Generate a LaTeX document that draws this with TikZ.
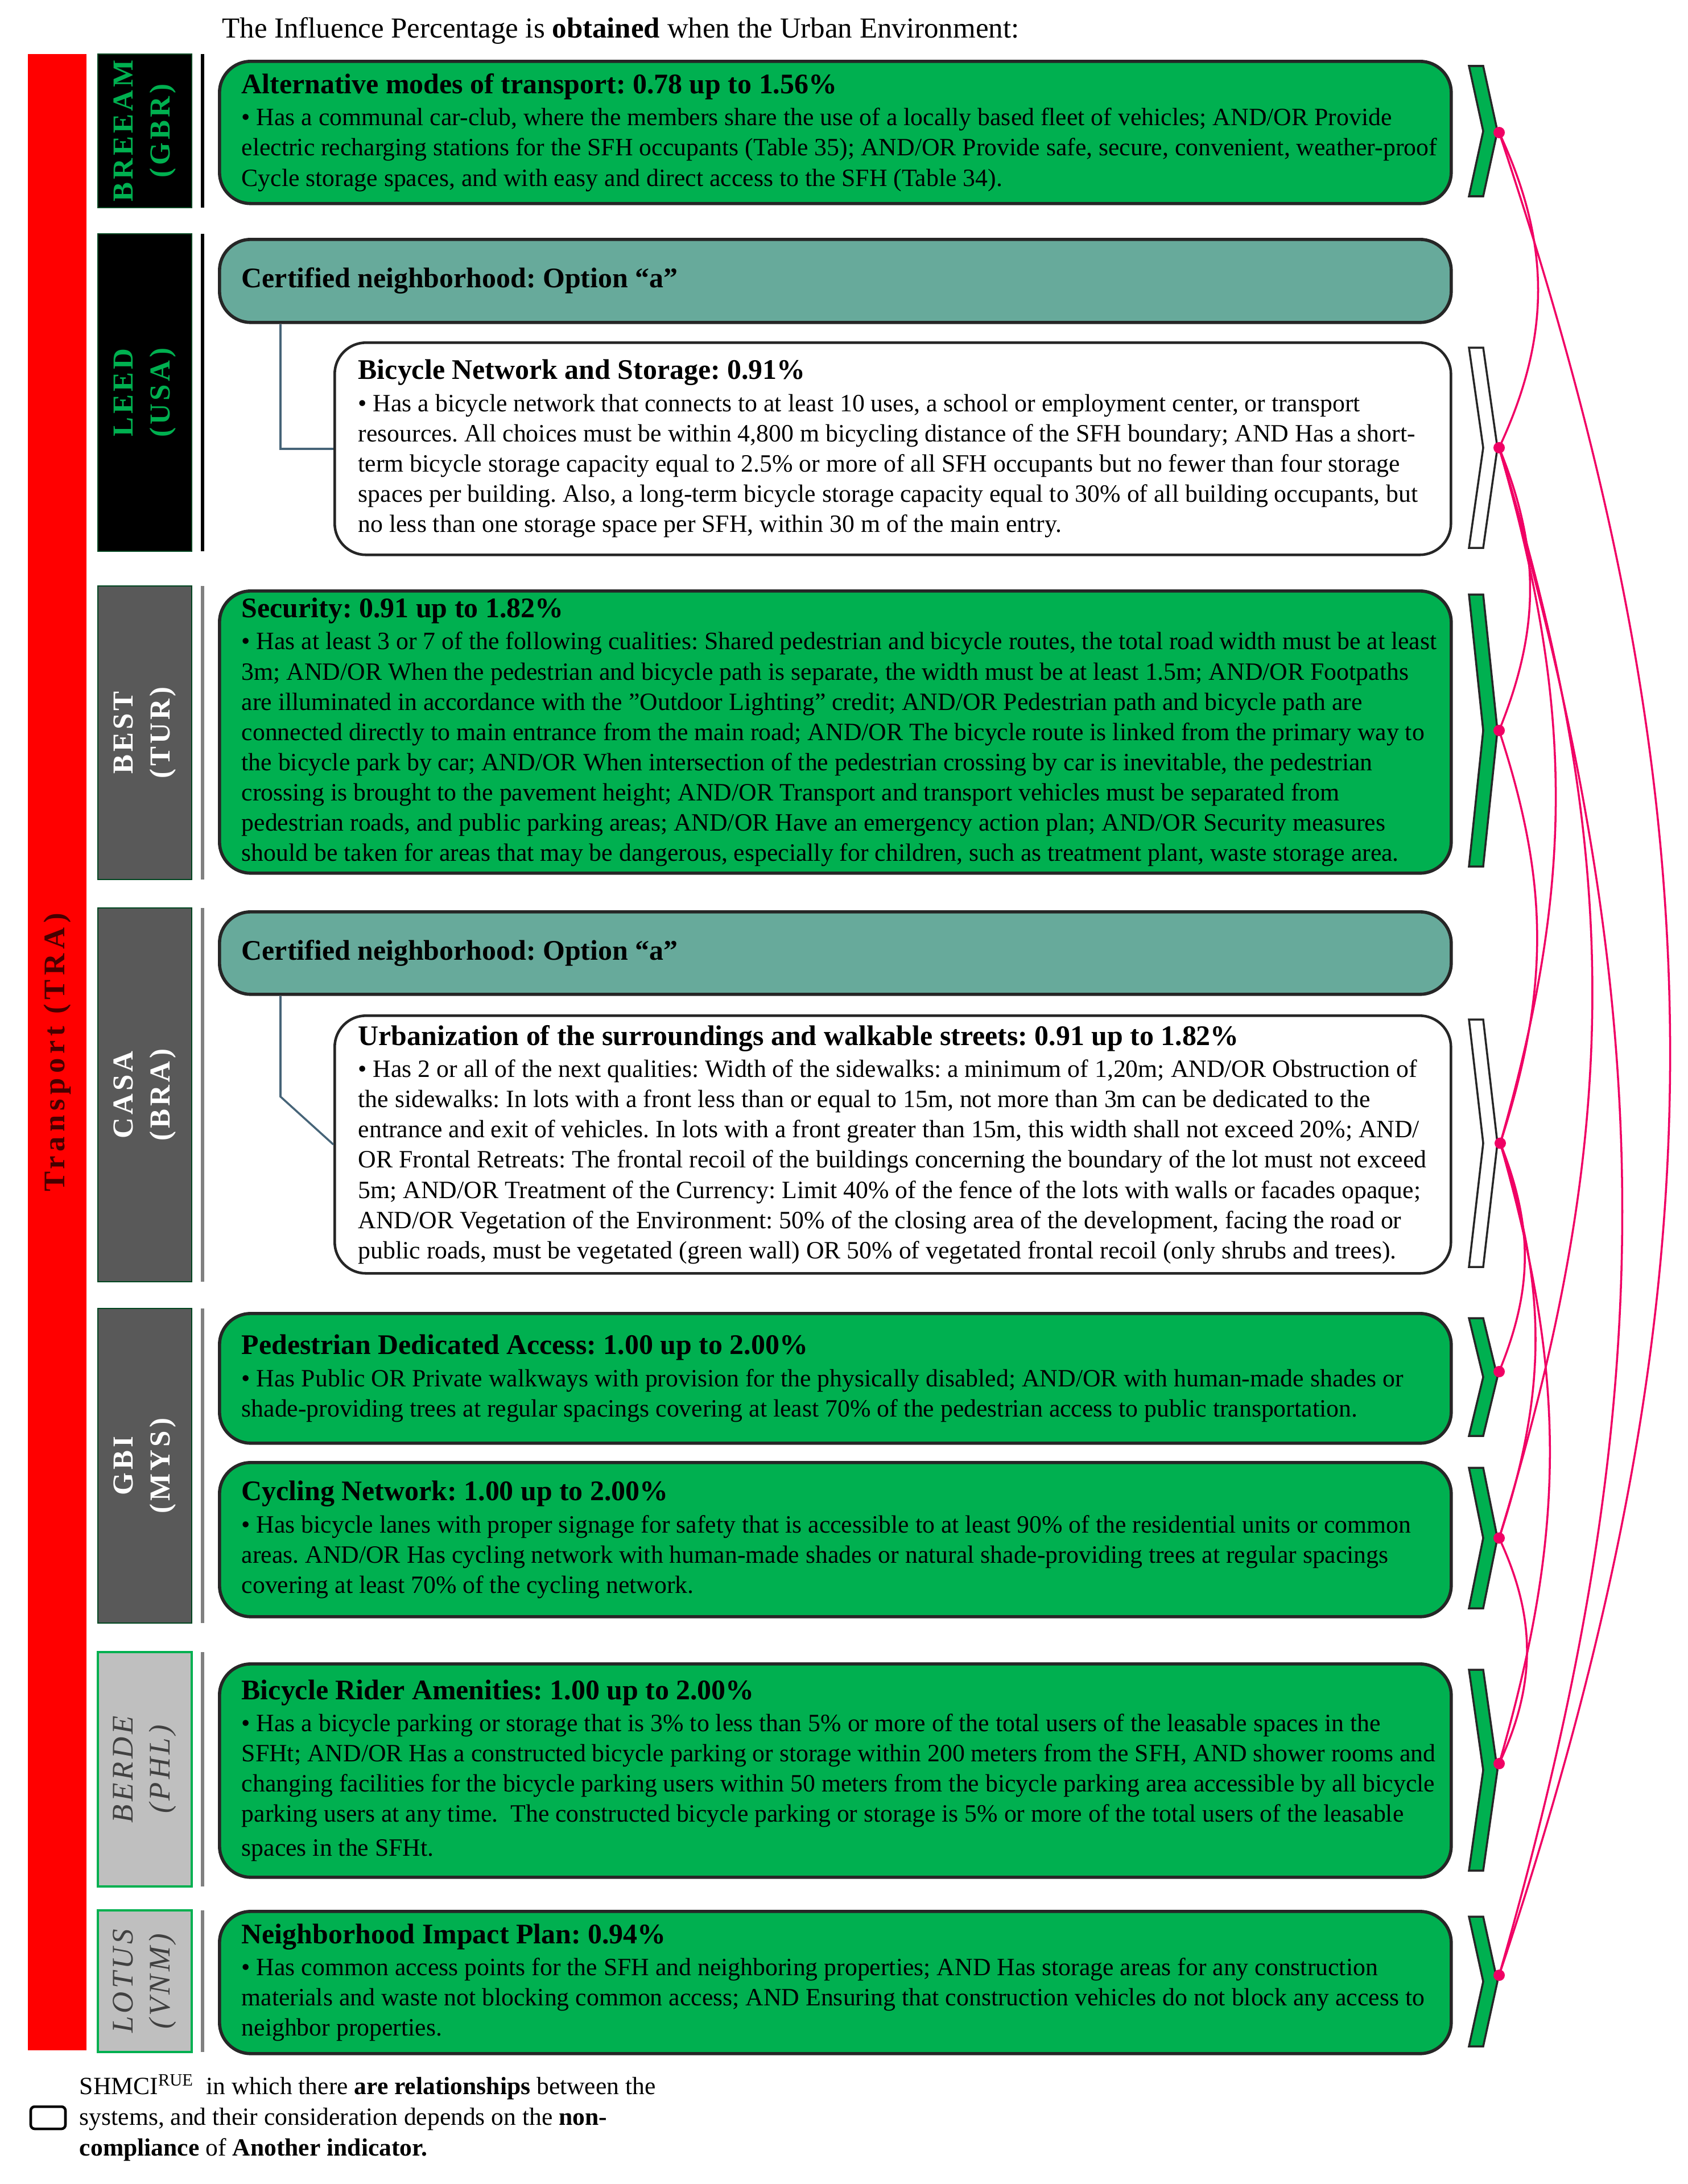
\documentclass[tikz,border=0pt]{standalone}
\usepackage{fontspec}
\setmainfont{Liberation Serif}
\newfontfamily\spacedfont[LetterSpace=10]{Liberation Serif}
\newfontfamily\widefont[LetterSpace=15]{Liberation Serif}
\usetikzlibrary{positioning, calc}

\definecolor{trared}{RGB}{255,0,0}
\definecolor{tradark}{RGB}{70,0,0}
\definecolor{okgreen}{RGB}{0,176,80}
\definecolor{nbteal}{RGB}{103,170,155}
\definecolor{labgray}{RGB}{89,89,89}
\definecolor{lightlab}{RGB}{191,191,191}
\definecolor{relpink}{RGB}{240,0,100}
\definecolor{linkslate}{RGB}{70,100,120}

\newcommand{\boxhead}[1]{{\fontsize{14.2}{15.1}\selectfont\bfseries #1}}

\begin{document}
\frenchspacing
\begin{tikzpicture}[
    box/.style={
        rectangle,
        rounded corners=0.55cm,
        draw=black!85,
        line width=1.6pt,
        anchor=north west,
        minimum width=21.65cm,
        inner sep=0pt
    },
    greenbox/.style={box, fill=okgreen},
    tealbox/.style={box, fill=nbteal},
    whitebox/.style={box, fill=white, line width=1.3pt, minimum width=19.62cm},
    txt/.style={
        align=left,
        inner sep=0pt,
        font=\fontsize{12.45}{15.1}\selectfont
    },
    lab/.style={
        rectangle,
        rotate=90,
        minimum height=1.65cm,
        inner sep=0pt,
        align=center,
        font=\spacedfont\fontsize{14.5}{18.5}\selectfont\bfseries
    },
    darklab/.style={lab, fill=black, draw=okgreen!40!black, line width=0.6pt, text=okgreen},
    graylab/.style={lab, fill=labgray, draw=okgreen!40!black, line width=0.6pt, text=white},
    lightlab/.style={lab, fill=lightlab, draw=okgreen, line width=1.2pt, text=black!75,
        font=\spacedfont\fontsize{15}{18.5}\selectfont\itshape},
    sepline/.style={line width=1.6pt},
    chev/.style={draw=black!85, line width=1pt},
    dot/.style={circle, fill=relpink, inner sep=0pt, minimum size=0.2cm},
    rel/.style={draw=relpink, line width=1pt},
    link/.style={draw=linkslate, line width=1pt}
]
    \useasboundingbox (0,0) rectangle (29.66,-38.39);

    % -- Title --
    \node[anchor=west, font=\fontsize{14.5}{17}\selectfont] (title) at (3.78,-0.54)
        {The Influence Percentage is \textbf{obtained} when the Urban Environment:};

    % -- Category bar --
    \node[rectangle, rotate=90, fill=trared, minimum width=35.09cm, minimum height=1.03cm,
        inner sep=0pt, text=tradark, font=\widefont\fontsize{15}{18}\selectfont\bfseries]
        (tra) at (1.005,-18.495) {Transport (TRA)};

    % -- Rating systems --
    \node[darklab, minimum width=2.70cm] (sBRE) at (2.545,-2.30) {BREEAM\\(GBR)};
    \node[darklab, minimum width=5.58cm] (sLEED) at (2.545,-6.90) {LEED\\(USA)};
    \node[graylab, minimum width=5.16cm] (sBEST) at (2.545,-12.88) {BEST\\(TUR)};
    \node[graylab, minimum width=6.57cm] (sCASA) at (2.545,-19.245) {CASA\\(BRA)};
    \node[graylab, minimum width=5.53cm] (sGBI) at (2.545,-25.765) {GBI\\(MYS)};
    \node[lightlab, minimum width=4.12cm] (sBERDE) at (2.545,-31.10) {BERDE\\(PHL)};
    \node[lightlab, minimum width=2.49cm] (sLOT) at (2.545,-34.825) {LOTUS\\(VNM)};

    % separators
    \draw[sepline] (3.56,-0.95) -- (3.56,-3.65);
    \draw[sepline] (3.56,-4.11) -- (3.56,-9.69);
    \draw[sepline, gray] (3.56,-10.30) -- (3.56,-15.46);
    \draw[sepline, gray] (3.56,-15.96) -- (3.56,-22.53);
    \draw[sepline, gray] (3.56,-23.00) -- (3.56,-28.53);
    \draw[sepline, gray] (3.56,-29.04) -- (3.56,-33.16);
    \draw[sepline, gray] (3.56,-33.58) -- (3.56,-36.07);

    % -- BREEAM --
    \node[greenbox, minimum height=2.50cm] (bre) at (3.83,-1.05) {};
    \node[txt, right=0.41cm of bre.west] (breT) {\boxhead{Alternative modes of transport: 0.78 up to 1.56\%}\\[1pt]
        • Has a communal car-club, where the members share the use of a locally based fleet of vehicles; AND/OR Provide\\
        electric recharging stations for the SFH occupants (Table 35); AND/OR Provide safe, secure, convenient, weather-proof\\
        Cycle storage spaces, and with easy and direct access to the SFH (Table 34).};

    % -- LEED --
    \node[tealbox, minimum height=1.46cm] (leedA) at (3.83,-4.18) {};
    \node[txt, right=0.41cm of leedA.west] (leedAT) {\boxhead{Certified neighborhood: Option “a”}};
    \node[whitebox, minimum height=3.73cm] (leedB) at (5.86,-6.00) {};
    \node[txt, right=0.43cm of leedB.west] (leedBT) {\boxhead{Bicycle Network and Storage: 0.91\%}\\[1pt]
        • Has a bicycle network that connects to at least 10 uses, a school or employment center, or transport\\
        resources. All choices must be within 4,800 m bicycling distance of the SFH boundary; AND Has a short-\\
        term bicycle storage capacity equal to 2.5\% or more of all SFH occupants but no fewer than four storage\\
        spaces per building. Also, a long-term bicycle storage capacity equal to 30\% of all building occupants, but\\
        no less than one storage space per SFH, within 30 m of the main entry.};
    \draw[link] ([xshift=1.10cm]leedA.south west) |- (leedB.west);

    % -- BEST --
    \node[greenbox, minimum height=4.96cm] (best) at (3.83,-10.36) {};
    \node[txt, right=0.41cm of best.west] (bestT) {\boxhead{Security: 0.91 up to 1.82\%}\\[1pt]
        • Has at least 3 or 7 of the following cualities: Shared pedestrian and bicycle routes, the total road width must be at least\\
        3m; AND/OR When the pedestrian and bicycle path is separate, the width must be at least 1.5m; AND/OR Footpaths\\
        are illuminated in accordance with the "Outdoor Lighting" credit; AND/OR Pedestrian path and bicycle path are\\
        connected directly to main entrance from the main road; AND/OR The bicycle route is linked from the primary way to\\
        the bicycle park by car; AND/OR When intersection of the pedestrian crossing by car is inevitable, the pedestrian\\
        crossing is brought to the pavement height; AND/OR Transport and transport vehicles must be separated from\\
        pedestrian roads, and public parking areas; AND/OR Have an emergency action plan; AND/OR Security measures\\
        should be taken for areas that may be dangerous, especially for children, such as treatment plant, waste storage area.};

    % -- CASA --
    \node[tealbox, minimum height=1.45cm] (casaA) at (3.83,-16.00) {};
    \node[txt, right=0.41cm of casaA.west] (casaAT) {\boxhead{Certified neighborhood: Option “a”}};
    \node[whitebox, minimum height=4.53cm] (casaB) at (5.86,-17.83) {};
    \node[txt, right=0.43cm of casaB.west] (casaBT) {\boxhead{Urbanization of the surroundings and walkable streets: 0.91 up to 1.82\%}\\[1pt]
        • Has 2 or all of the next qualities: Width of the sidewalks: a minimum of 1,20m; AND/OR Obstruction of\\
        the sidewalks: In lots with a front less than or equal to 15m, not more than 3m can be dedicated to the\\
        entrance and exit of vehicles. In lots with a front greater than 15m, this width shall not exceed 20\%; AND/\\
        OR Frontal Retreats: The frontal recoil of the buildings concerning the boundary of the lot must not exceed\\
        5m; AND/OR Treatment of the Currency: Limit 40\% of the fence of the lots with walls or facades opaque;\\
        AND/OR Vegetation of the Environment: 50\% of the closing area of the development, facing the road or\\
        public roads, must be vegetated (green wall) OR 50\% of vegetated frontal recoil (only shrubs and trees).};
    \draw[link] ([xshift=1.10cm]casaA.south west) -- ++(0,-1.77) -- (casaB.west);

    % -- GBI --
    \node[greenbox, minimum height=2.28cm] (gbiA) at (3.83,-23.06) {};
    \node[txt, right=0.41cm of gbiA.west] (gbiAT) {\boxhead{Pedestrian Dedicated Access: 1.00 up to 2.00\%}\\[1pt]
        • Has Public OR Private walkways with provision for the physically disabled; AND/OR with human-made shades or\\
        shade-providing trees at regular spacings covering at least 70\% of the pedestrian access to public transportation.};
    \node[greenbox, minimum height=2.71cm] (gbiB) at (3.83,-25.68) {};
    \node[txt, right=0.41cm of gbiB.west] (gbiBT) {\boxhead{Cycling Network: 1.00 up to 2.00\%}\\[1pt]
        • Has bicycle lanes with proper signage for safety that is accessible to at least 90\% of the residential units or common\\
        areas. AND/OR Has cycling network with human-made shades or natural shade-providing trees at regular spacings\\
        covering at least 70\% of the cycling network.};

    % -- BERDE --
    \node[greenbox, minimum height=3.75cm] (berde) at (3.83,-29.22) {};
    \node[txt, right=0.41cm of berde.west] (berdeT) {\boxhead{Bicycle Rider Amenities: 1.00 up to 2.00\%}\\[1pt]
        • Has a bicycle parking or storage that is 3\% to less than 5\% or more of the total users of the leasable spaces in the\\
        SFHt; AND/OR Has a constructed bicycle parking or storage within 200 meters from the SFH, AND shower rooms and\\
        changing facilities for the bicycle parking users within 50 meters from the bicycle parking area accessible by all bicycle\\
        parking users at any time.\ \ The constructed bicycle parking or storage is 5\% or more of the total users of the leasable\\[2pt]
        spaces in the SFHt.};

    % -- LOTUS --
    \node[greenbox, minimum height=2.50cm] (lot) at (3.83,-33.57) {};
    \node[txt, right=0.41cm of lot.west] (lotT) {\boxhead{Neighborhood Impact Plan: 0.94\%}\\[1pt]
        • Has common access points for the SFH and neighboring properties; AND Has storage areas for any construction\\
        materials and waste not blocking common access; AND Ensuring that construction vehicles do not block any access to\\
        neighbor properties.};

    % -- Chevrons --
    \draw[chev, fill=okgreen] (25.82,-1.16) -- (26.07,-1.16) -- (26.32,-2.305) -- (26.07,-3.45) -- (25.82,-3.45) -- (26.07,-2.305) -- cycle;
    \draw[chev, fill=white] (25.82,-6.11) -- (26.07,-6.11) -- (26.32,-7.87) -- (26.07,-9.63) -- (25.82,-9.63) -- (26.07,-7.87) -- cycle;
    \draw[chev, fill=okgreen] (25.82,-10.45) -- (26.07,-10.45) -- (26.32,-12.84) -- (26.07,-15.23) -- (25.82,-15.23) -- (26.07,-12.84) -- cycle;
    \draw[chev, fill=white] (25.82,-17.92) -- (26.07,-17.92) -- (26.32,-20.095) -- (26.07,-22.27) -- (25.82,-22.27) -- (26.07,-20.095) -- cycle;
    \draw[chev, fill=okgreen] (25.82,-23.17) -- (26.07,-23.17) -- (26.32,-24.205) -- (26.07,-25.24) -- (25.82,-25.24) -- (26.07,-24.205) -- cycle;
    \draw[chev, fill=okgreen] (25.82,-25.80) -- (26.07,-25.80) -- (26.32,-27.035) -- (26.07,-28.27) -- (25.82,-28.27) -- (26.07,-27.035) -- cycle;
    \draw[chev, fill=okgreen] (25.82,-29.35) -- (26.07,-29.35) -- (26.32,-31.115) -- (26.07,-32.88) -- (25.82,-32.88) -- (26.07,-31.115) -- cycle;
    \draw[chev, fill=okgreen] (25.82,-33.69) -- (26.07,-33.69) -- (26.32,-34.83) -- (26.07,-35.97) -- (25.82,-35.97) -- (26.07,-34.83) -- cycle;

    % -- Relationship dots --
    \node[dot] (pBRE) at (26.35,-2.33) {};
    \node[dot] (pLEED) at (26.35,-7.87) {};
    \node[dot] (pBEST) at (26.35,-12.84) {};
    \node[dot] (pCASA) at (26.37,-20.095) {};
    \node[dot] (pGBIa) at (26.35,-24.11) {};
    \node[dot] (pGBIb) at (26.35,-27.035) {};
    \node[dot] (pBERDE) at (26.35,-31.0) {};
    \node[dot] (pLOT) at (26.35,-34.72) {};

    % Relationship arcs
    \draw[rel] (pBRE.center) to[bend left=25] (pLEED.center);
    \draw[rel] (pBRE.center) to[bend left=18.5] (pLOT.center);
    \draw[rel] (pLEED.center) to[bend left=22] (pBEST.center);
    \draw[rel] (pLEED.center) to[bend left=16] (pCASA.center);
    \draw[rel] (pLEED.center) to[bend left=17] (pGBIb.center);
    \draw[rel] (pLEED.center) to[bend left=16] (pLOT.center);
    \draw[rel] (pBEST.center) to[bend left=18] (pCASA.center);
    \draw[rel] (pCASA.center) to[bend left=22] (pGBIa.center);
    \draw[rel] (pCASA.center) to[bend left=18] (pGBIb.center);
    \draw[rel] (pCASA.center) to[bend left=16] (pBERDE.center);
    \draw[rel] (pGBIb.center) to[bend left=25] (pBERDE.center);

    % -- Legend --
    \node[draw=black, line width=1.3pt, rounded corners=2pt, minimum width=0.61cm,
        minimum height=0.39cm, inner sep=0pt] (legbox) at (0.845,-37.225) {};
    \node[right=0.22cm of legbox, align=left, inner sep=0pt, font=\fontsize{12.4}{15.3}\selectfont] (legtxt)
        {SHMCI\textsuperscript{RUE}\ \ in which there \textbf{are relationships} between the\\
         systems, and their consideration depends on the \textbf{non-}\\
         \textbf{compliance} of \textbf{Another indicator.}};

\end{tikzpicture}
\end{document}
